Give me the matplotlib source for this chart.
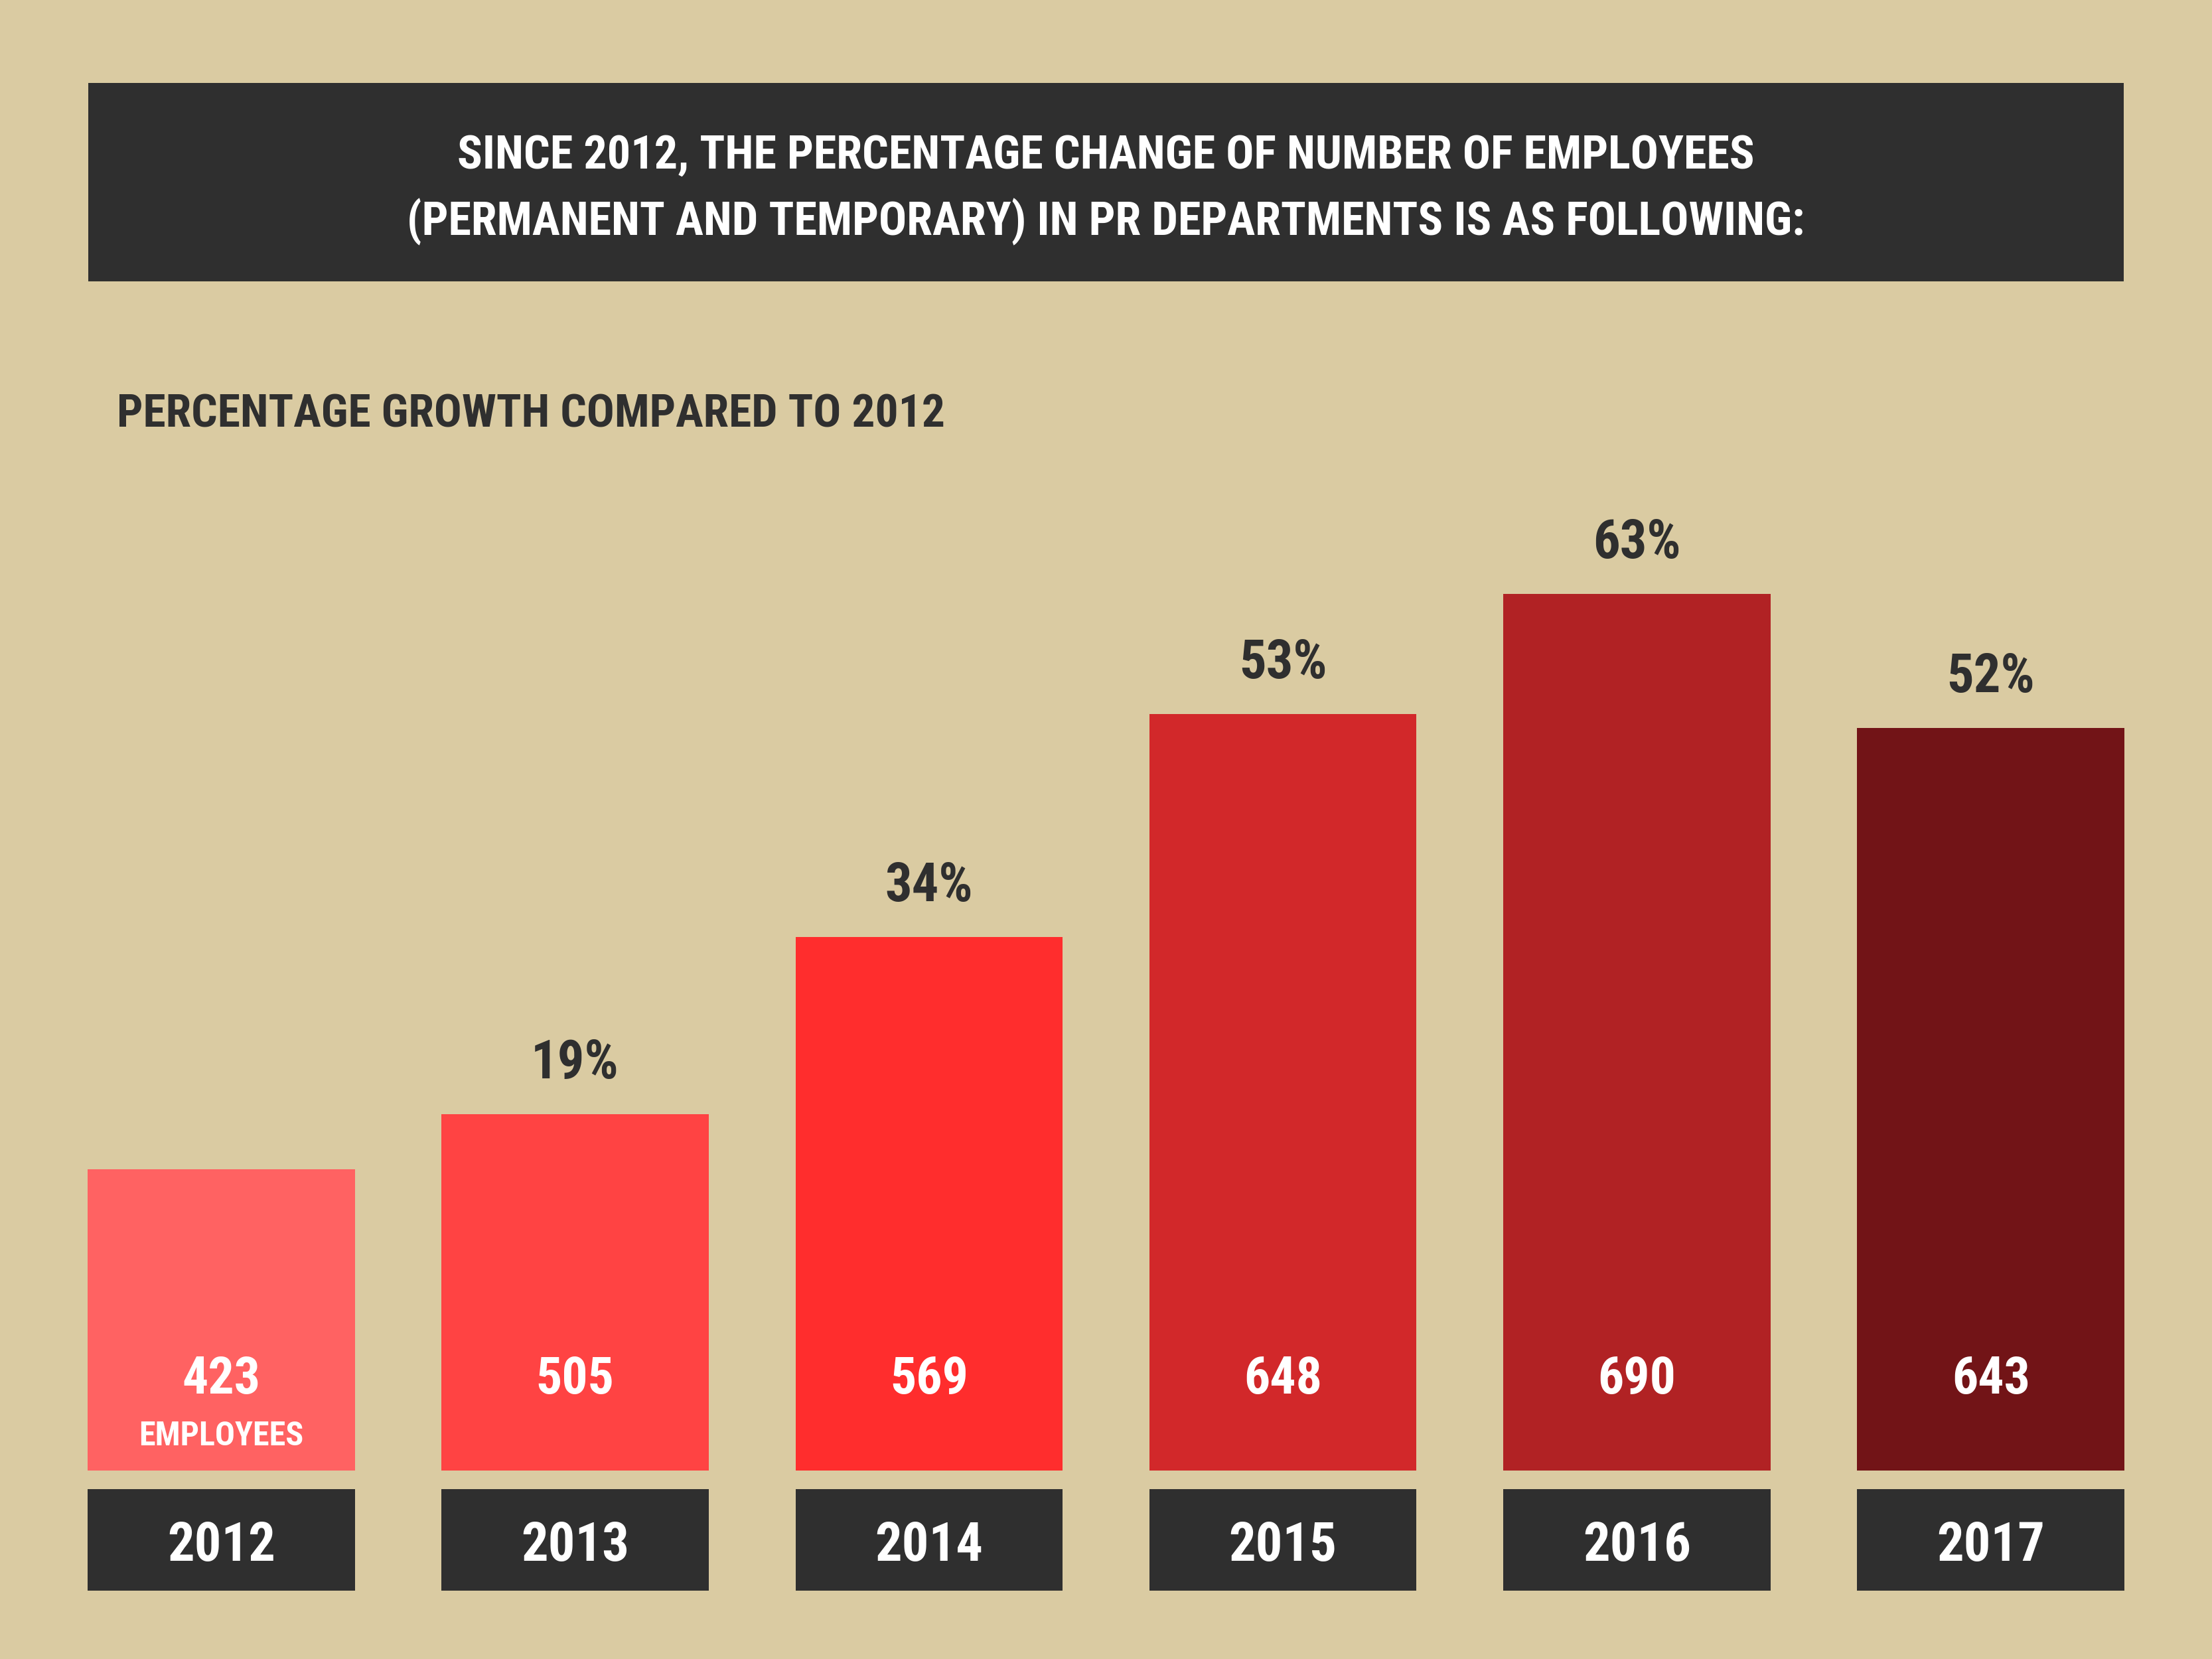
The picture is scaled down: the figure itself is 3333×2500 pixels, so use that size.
import matplotlib
matplotlib.use("Agg")
import matplotlib.pyplot as plt
from matplotlib import font_manager as fm
from matplotlib.patches import Rectangle

# =========================
# DATA
# =========================
YEARS = ["2012", "2013", "2014", "2015", "2016", "2017"]
EMPLOYEES = [423, 505, 569, 648, 690, 643]
GROWTH_LABELS = ["", "19%", "34%", "53%", "63%", "52%"]
# drawn bar heights (not proportional to the data)
BAR_HEIGHT = [454, 537, 804, 1140, 1321, 1119]

TITLE_1 = "SINCE 2012, THE PERCENTAGE CHANGE OF NUMBER OF EMPLOYEES"
TITLE_2 = "(PERMANENT AND TEMPORARY) IN PR DEPARTMENTS IS AS FOLLOWING:"
SUBTITLE = "PERCENTAGE GROWTH COMPARED TO 2012"

BAR_COLORS = ["#FF6262", "#FF4343", "#FF2D2D", "#D2282A", "#B12224", "#721417"]
BG = "#DACBA2"
DARK = "#2F2F2F"

# =========================
# FONT PICK (narrow family if there is one)
# =========================
NAMES = {F.name for F in fm.fontManager.ttflist}
FONT = "DejaVu Sans"
STRETCH = "normal"
for CAND in ["Roboto Condensed", "Liberation Sans Narrow", "Open Sans Condensed"]:
    if CAND in NAMES:
        FONT = CAND
        break
else:
    if any(F.name == "DejaVu Sans" and F.stretch == "condensed" for F in fm.fontManager.ttflist):
        STRETCH = "condensed"
plt.rcParams["font.family"] = [FONT, "DejaVu Sans"]
plt.rcParams["font.stretch"] = STRETCH

# =========================
# FIGURE
# =========================
FIG = plt.figure(figsize=(33.33, 25), dpi=100)
FIG.patch.set_facecolor(BG)

AX = FIG.add_axes([0.02, 0.0, 0.96, 1.0])
AX.set_facecolor("none")
AX.set_xlim(-0.5, len(YEARS) - 0.5)
AX.set_ylim(-284, 2216)
AX.axis("off")

X = list(range(len(YEARS)))
W = 0.755

AX.bar(X, BAR_HEIGHT, width=W, color=BAR_COLORS, linewidth=0)

# year boxes under the bars
AX.bar(X, [-153] * len(X), bottom=-28, width=W, color=DARK, linewidth=0)

for I, YR in enumerate(YEARS):
    AX.text(I, -136, YR, ha="center", va="baseline", color="white",
            fontsize=58, fontweight="bold")
    AX.text(I, 116, str(EMPLOYEES[I]), ha="center", va="baseline", color="white",
            fontsize=56, fontweight="bold")
    if GROWTH_LABELS[I]:
        AX.text(I, BAR_HEIGHT[I] + 54, GROWTH_LABELS[I], ha="center", va="baseline",
                color=DARK, fontsize=58, fontweight="bold")

AX.text(0, 38, "EMPLOYEES", ha="center", va="baseline", color="white",
        fontsize=36, fontweight="bold")

# =========================
# TITLE BOX + SUBTITLE
# =========================
FIG.patches.append(Rectangle((0.04, 1 - 424 / 2500), 0.92, 299 / 2500,
                             transform=FIG.transFigure, facecolor=DARK,
                             edgecolor="none", zorder=0))
FIG.text(0.5, 1 - 254 / 2500, TITLE_1, ha="center", va="baseline",
         color="white", fontsize=50.5, fontweight="bold")
FIG.text(0.5, 1 - 354 / 2500, TITLE_2, ha="center", va="baseline",
         color="white", fontsize=50.5, fontweight="bold")
FIG.text(176 / 3333, 1 - 643 / 2500, SUBTITLE, ha="left", va="baseline",
         color=DARK, fontsize=50, fontweight="bold")

FIG.savefig("out.png", dpi=100, facecolor=BG)
